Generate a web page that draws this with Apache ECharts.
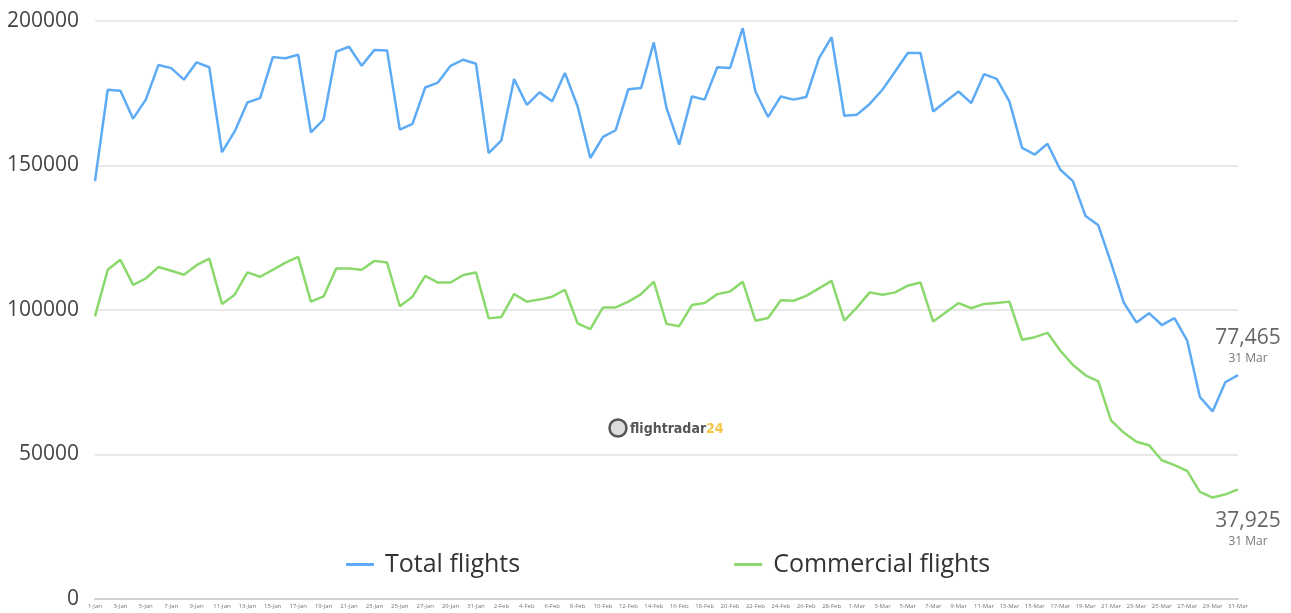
<!DOCTYPE html>
<html>
<head>
<meta charset="utf-8">
<title>Flights</title>
<script src="https://cdn.jsdelivr.net/npm/echarts@6/dist/echarts.min.js"></script>
<style>
  html, body { margin: 0; padding: 0; background: #fff; }
  #chart { width: 1291px; height: 613px; }
</style>
</head>
<body>
<div id="chart"></div>
<script>
// data (1 Jan - 31 Mar 2020)
var months = ['Jan', 'Feb', 'Mar'];
var monthDays = [31, 29, 31];

var totalFlights = [
  144600, 176200, 175900, 166200, 172800, 184800, 183700, 179700, 185700, 184000,
  154600, 161800, 171800, 173300, 187500, 187100, 188300, 161500, 165900, 189400,
  191100, 184500, 190000, 189800, 162400, 164400, 177000, 178700, 184500, 186600,
  185200, 154300, 158700, 179900, 171000, 175300, 172200, 182000, 170500, 152600,
  159900, 162200, 176400, 176800, 192600, 169900, 157200, 173900, 172800, 184000,
  183700, 197500, 175600, 166800, 173900, 172800, 173700, 187100, 194400, 167200,
  167600, 171300, 176200, 182500, 188900, 188900, 168700, 172200, 175600, 171600,
  181600, 180000, 172200, 156100, 153800, 157500, 148600, 144600, 132500, 129300,
  116400, 102600, 95700, 98900, 94800, 97200, 89400, 69900, 64900, 75000, 77465
];

var commercialFlights = [
  97800, 113900, 117400, 108700, 110900, 114900, 113600, 112200, 115500, 117800,
  102100, 105300, 113000, 111500, 113900, 116400, 118400, 102900, 104700, 114400,
  114400, 113900, 117000, 116400, 101300, 104600, 111800, 109500, 109500, 112100,
  113000, 97100, 97600, 105500, 102900, 103600, 104600, 107000, 95400, 93400,
  100900, 100900, 102900, 105500, 109800, 95200, 94400, 101700, 102400, 105500,
  106400, 109800, 96300, 97200, 103400, 103200, 104900, 107500, 110100, 96300,
  100900, 106100, 105300, 106100, 108400, 109500, 96000, 99200, 102400, 100600,
  102100, 102400, 102900, 89700, 90600, 92100, 86000, 81000, 77400, 75300,
  61800, 57600, 54400, 53200, 48000, 46300, 44300, 37100, 35100, 36200, 37925
];

// 日期标签 1-Jan ... 31-Mar
var days = [];
months.forEach(function (m, i) {
  for (var d = 1; d <= monthDays[i]; d++) days.push(d + '-' + m);
});

var lastLabel = '31 Mar';
var blue = '#5eabf5';
var green = '#8bd96c';

function endLabel(dy) {
  return {
    show: true,
    align: 'center',
    verticalAlign: 'middle',
    distance: 0,
    offset: [10, dy],
    formatter: function (p) {
      return '{a|' + p.value.toLocaleString('en-US') + '}\n{b|' + lastLabel + '}';
    },
    rich: {
      a: { fontFamily: 'Open Sans', fontSize: 21, color: '#666', lineHeight: 24, align: 'center' },
      b: { fontFamily: 'Open Sans', fontSize: 12, color: '#777', lineHeight: 17, align: 'center' }
    }
  };
}

var myChart = echarts.init(document.getElementById('chart'));

var option = {
  animation: false,
  backgroundColor: '#fff',
  grid: { left: 95, right: 53, top: 21, bottom: 14, containLabel: false },
  legend: {
    left: 341,
    top: 547,
    itemGap: 214,
    itemWidth: 28,
    itemHeight: 3,
    icon: 'rect',
    textStyle: { fontFamily: 'Open Sans', fontSize: 25, color: '#333', padding: [0, 0, 0, 6] },
    data: ['Total flights', 'Commercial flights']
  },
  xAxis: {
    type: 'category',
    data: days,
    boundaryGap: false,
    axisTick: { show: false },
    axisLine: { lineStyle: { color: '#d0d0d0', width: 2 } },
    axisLabel: { interval: 1, fontSize: 6, color: '#777', margin: 4, fontFamily: 'Open Sans' }
  },
  yAxis: {
    type: 'value',
    min: 0,
    max: 200000,
    interval: 50000,
    axisLine: { show: false },
    axisTick: { show: false },
    axisLabel: {
      fontFamily: 'Open Sans', fontSize: 21, color: '#444', margin: 16,
      formatter: function (v) { return String(v); }
    },
    splitLine: { lineStyle: { color: '#e2e2e2', width: 1.5 } }
  },
  graphic: [
    {
      type: 'circle',
      shape: { cx: 618, cy: 428, r: 8.5 },
      style: { fill: '#ddd', stroke: '#555', lineWidth: 2.5 }
    },
    {
      type: 'text',
      x: 630,
      y: 429,
      style: {
        text: '{f|flightradar}{n|24}',
        verticalAlign: 'middle',
        rich: {
          f: { fontFamily: 'DejaVu Sans Condensed', fontWeight: 'bold', fontSize: 14, fill: '#555' },
          n: { fontFamily: 'DejaVu Sans Condensed', fontWeight: 'bold', fontSize: 14, fill: '#f4c542' }
        }
      }
    }
  ],
  series: [
    {
      name: 'Total flights',
      type: 'line',
      data: totalFlights,
      showSymbol: false,
      symbol: 'none',
      color: blue,
      lineStyle: { width: 2.5, color: blue },
      endLabel: endLabel(-29)
    },
    {
      name: 'Commercial flights',
      type: 'line',
      data: commercialFlights,
      showSymbol: false,
      symbol: 'none',
      color: green,
      lineStyle: { width: 2.5, color: green },
      endLabel: endLabel(40)
    }
  ]
};

myChart.setOption(option);
</script>
</body>
</html>
